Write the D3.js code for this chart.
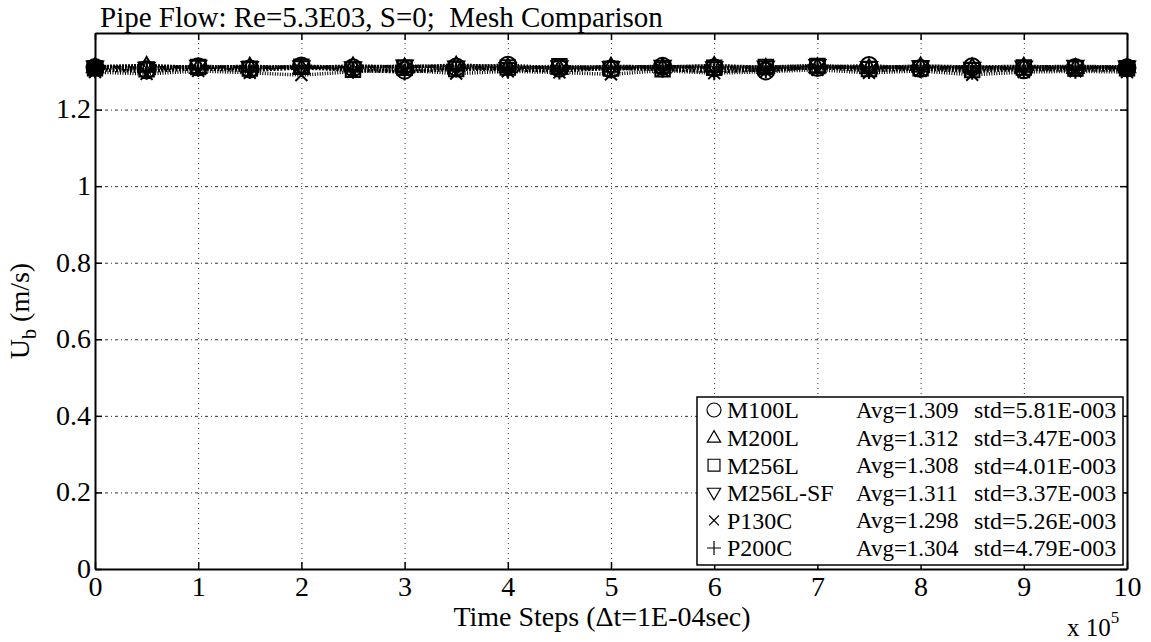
<html>
<script src='https://d3js.org/d3.v7.min.js'></script>
<body style="margin:0; background:white;">
<style>
    body { font-family: "Liberation Serif", "DejaVu Serif", serif; }
    text { font-family: "Liberation Serif", "DejaVu Serif", serif; fill: black; white-space: pre; }
</style>
<svg width=1151 height=642></svg>
<script>

// time steps (x 10^5) where values are shown
var steps = [0,0.5,1,1.5,2,2.5,3,3.5,4,4.5,5,5.5,6,6.5,7,7.5,8,8.5,9,9.5,10];

var seriesNames = ["M100L", "M200L", "M256L", "M256L-SF", "P130C", "P200C"];
var avgLabels = ["Avg=1.309", "Avg=1.312", "Avg=1.308", "Avg=1.311", "Avg=1.298", "Avg=1.304"];
var stdLabels = ["std=5.81E-003", "std=3.47E-003", "std=4.01E-003", "std=3.37E-003", "std=5.26E-003", "std=4.79E-003"];
var markerTypes = ["circle", "triangle", "square", "triangledown", "cross", "plus"];

var m100L   = [1.310,1.304,1.312,1.306,1.314,1.309,1.303,1.311,1.316,1.308,1.306,1.313,1.309,1.301,1.310,1.315,1.307,1.312,1.304,1.310,1.309];
var m200L   = [1.312,1.315,1.310,1.313,1.309,1.314,1.311,1.316,1.312,1.308,1.313,1.311,1.315,1.310,1.312,1.309,1.314,1.311,1.313,1.310,1.312];
var m256L   = [1.308,1.305,1.311,1.307,1.312,1.304,1.309,1.306,1.310,1.313,1.307,1.305,1.309,1.311,1.314,1.306,1.308,1.303,1.310,1.307,1.308];
var m256LSF = [1.311,1.308,1.313,1.310,1.312,1.309,1.314,1.311,1.307,1.312,1.310,1.313,1.309,1.311,1.315,1.310,1.312,1.308,1.311,1.313,1.311];
var p130C   = [1.298,1.293,1.301,1.296,1.290,1.299,1.303,1.294,1.300,1.297,1.292,1.302,1.295,1.299,1.304,1.296,1.301,1.291,1.298,1.300,1.298];
var p200C   = [1.304,1.300,1.307,1.302,1.309,1.303,1.298,1.306,1.304,1.301,1.308,1.305,1.299,1.304,1.310,1.302,1.306,1.300,1.305,1.303,1.304];

var seriesValues = [m100L, m200L, m256L, m256LSF, p130C, p200C];

var xTicks = [0,1,2,3,4,5,6,7,8,9,10];
var yTicks = [0,0.2,0.4,0.6,0.8,1,1.2];

var plotLeft = 95, plotTop = 33, plotRight = 1127, plotBottom = 569;

var x = d3.scaleLinear().domain([0,10]).range([plotLeft,plotRight]);
var y = d3.scaleLinear().domain([0,1.4]).range([plotBottom,plotTop]);

var svg = d3.select("svg");

// grid
svg.append("g")
    .attr("transform", "translate(0," + plotBottom + ")")
    .call(d3.axisBottom(x).tickValues(xTicks).tickSize(-(plotBottom-plotTop)).tickFormat(""))
    .call(g => g.select(".domain").remove())
    .selectAll("line")
        .attr("stroke", "#333")
        .attr("stroke-width", 1)
        .attr("stroke-dasharray", "1,4");

svg.append("g")
    .attr("transform", "translate(" + plotLeft + ",0)")
    .call(d3.axisLeft(y).tickValues(yTicks).tickSize(-(plotRight-plotLeft)).tickFormat(""))
    .call(g => g.select(".domain").remove())
    .selectAll("line")
        .attr("stroke", "#333")
        .attr("stroke-width", 1)
        .attr("stroke-dasharray", "3,3,1,3");

// lines
var line = d3.line()
    .x(function(d, i) { return x(steps[i]); })
    .y(function(d) { return y(d); });

var dashes = ["1.5,1.5", "2,1", "1,2", "1.5,1", "1,1.5", "2,1.5"];

seriesValues.forEach(function(vals, k) {
    svg.append("path")
        .datum(vals)
        .attr("fill", "none")
        .attr("stroke", "black")
        .attr("stroke-width", 3.5)
        .attr("stroke-dasharray", dashes[k])
        .attr("d", line);
});

// markers
function markerPath(type, r) {
    if (type == "circle") return d3.symbol().type(d3.symbolCircle).size(Math.PI*r*r)();
    if (type == "square") return "M" + (-r*0.85) + "," + (-r*0.85) + "h" + (1.7*r) + "v" + (1.7*r) + "h" + (-1.7*r) + "Z";
    if (type == "triangle") return "M0," + (-r) + "L" + (r*0.95) + "," + (r*0.65) + "L" + (-r*0.95) + "," + (r*0.65) + "Z";
    if (type == "triangledown") return "M0," + r + "L" + (r*0.95) + "," + (-r*0.65) + "L" + (-r*0.95) + "," + (-r*0.65) + "Z";
    if (type == "cross") return "M" + (-r*0.7) + "," + (-r*0.7) + "L" + (r*0.7) + "," + (r*0.7) + "M" + (r*0.7) + "," + (-r*0.7) + "L" + (-r*0.7) + "," + (r*0.7);
    if (type == "plus") return "M" + (-r) + ",0L" + r + ",0M0," + (-r) + "L0," + r;
}

seriesValues.forEach(function(vals, k) {
    svg.append("g").selectAll("path")
        .data(vals)
        .enter().append("path")
        .attr("transform", function(d, i) { return "translate(" + x(steps[i]) + "," + y(d) + ")"; })
        .attr("d", markerPath(markerTypes[k], 8.5))
        .attr("fill", function(d, i) { return (i == 0 || i == vals.length-1) ? "black" : "none"; })
        .attr("stroke", "black")
        .attr("stroke-width", 2);
});

// axes box
var xAxis = svg.append("g")
    .attr("transform", "translate(0," + plotBottom + ")")
    .call(d3.axisBottom(x).tickValues(xTicks).tickSizeInner(-7).tickSizeOuter(0).tickPadding(13));
var xTop = svg.append("g")
    .attr("transform", "translate(0," + plotTop + ")")
    .call(d3.axisTop(x).tickValues(xTicks).tickSizeInner(-7).tickSizeOuter(0).tickFormat(""));
var yAxis = svg.append("g")
    .attr("transform", "translate(" + plotLeft + ",0)")
    .call(d3.axisLeft(y).tickValues(yTicks).tickSizeInner(-7).tickSizeOuter(0).tickPadding(4).tickFormat(d3.format("")));
var yRight = svg.append("g")
    .attr("transform", "translate(" + plotRight + ",0)")
    .call(d3.axisRight(y).tickValues(yTicks).tickSizeInner(-7).tickSizeOuter(0).tickFormat(""));

[xAxis, xTop, yAxis, yRight].forEach(function(g) {
    g.select(".domain").attr("stroke", "black").attr("stroke-width", 2);
    g.selectAll("line").attr("stroke", "black").attr("stroke-width", 1.5);
    g.selectAll("text").style("font-size", "28px").attr("fill", "black");
});
xAxis.selectAll("text").attr("dy", "0.5em");
yAxis.selectAll("text").attr("dy", "0.3em");

// title
svg.append("text")
    .attr("x", 100)
    .attr("y", 27)
    .style("font-size", "29px")
    .text("Pipe Flow: Re=5.3E03, S=0;\u00a0 Mesh Comparison");

// axis labels
svg.append("text")
    .attr("x", (plotLeft+plotRight)/2 - 9)
    .attr("y", 626)
    .attr("text-anchor", "middle")
    .style("font-size", "28px")
    .text("Time Steps (\u0394t=1E-04sec)");

var ylab = svg.append("text")
    .attr("transform", "translate(29," + ((plotTop+plotBottom)/2 + 10) + ") rotate(-90)")
    .attr("text-anchor", "middle")
    .style("font-size", "28px");
ylab.append("tspan").text("U");
ylab.append("tspan").attr("dy", 7).style("font-size", "20px").text("b");
ylab.append("tspan").attr("dy", -7).text(" (m/s)");

var mult = svg.append("text")
    .attr("x", 1067)
    .attr("y", 636)
    .style("font-size", "25px");
mult.append("tspan").text("x 10");
mult.append("tspan").attr("dy", -13).style("font-size", "17px").text("5");

// legend
var lx = 697, ly = 397, lw = 426, lh = 168;
svg.append("rect")
    .attr("x", lx).attr("y", ly).attr("width", lw).attr("height", lh)
    .attr("fill", "white").attr("stroke", "black").attr("stroke-width", 1.5);

var rowY = d3.scaleLinear().domain([0,5]).range([ly+13, ly+151]);

seriesNames.forEach(function(name, k) {
    var cy = rowY(k);
    svg.append("path")
        .attr("transform", "translate(" + (lx+17) + "," + cy + ")")
        .attr("d", markerPath(markerTypes[k], 7))
        .attr("fill", "none")
        .attr("stroke", "black")
        .attr("stroke-width", 1.2);
    svg.append("text").attr("x", lx+30).attr("y", cy).attr("dy", "0.35em")
        .style("font-size", "24px").text(name);
    svg.append("text").attr("x", lx+159).attr("y", cy).attr("dy", "0.35em")
        .style("font-size", "23px").text(avgLabels[k]);
    svg.append("text").attr("x", lx+277).attr("y", cy).attr("dy", "0.35em")
        .style("font-size", "24px").text(stdLabels[k]);
});

</script>
</body>
</html>
